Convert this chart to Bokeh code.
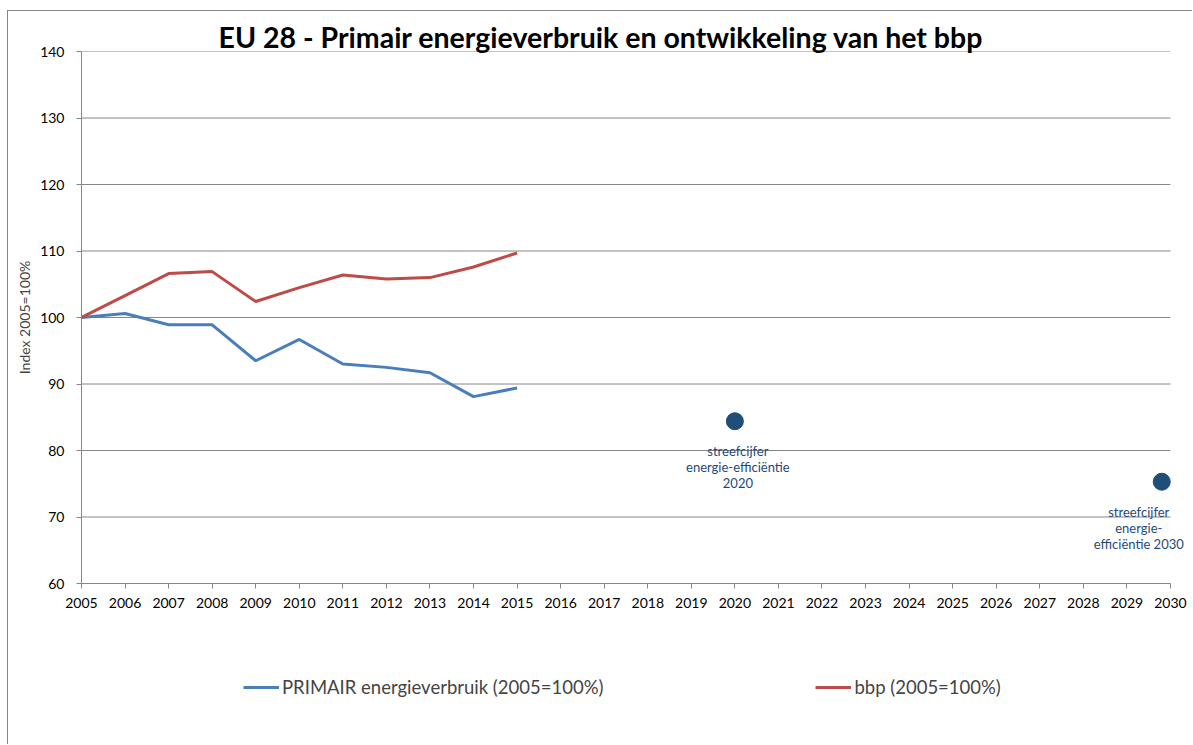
from bokeh.plotting import figure
from bokeh.models import Range1d, FixedTicker, Label, Legend, LegendItem
from bokeh.layouts import column
from bokeh.embed import file_html
from bokeh.resources import INLINE

# ---- data ----
years = list(range(2005, 2016))
primair = [100.0, 100.6, 98.9, 98.9, 93.5, 96.7, 93.0, 92.5, 91.7, 88.1, 89.4]
bbp = [100.0, 103.3, 106.6, 106.9, 102.4, 104.5, 106.4, 105.8, 106.0, 107.6, 109.7]
target_years = [2020, 2029.8]
target_values = [84.4, 75.3]
target_label_lines = [
    ["streefcijfer", "energie-efficiëntie", "2020"],
    ["streefcijfer", "energie-", "efficiëntie 2030"],
]
axis_years = list(range(2005, 2031))
y_ticks = [60, 70, 80, 90, 100, 110, 120, 130, 140]
title_text = "EU 28 - Primair energieverbruik en ontwikkeling van het bbp"
y_label = "Index 2005=100%"
legend_labels = ["PRIMAIR energieverbruik (2005=100%)", "bbp (2005=100%)"]

FONT = "Lato"
GRAY = "#868686"
BLUE = "#4A7EBB"
RED = "#BE4B48"
DOT = "#1F4E79"
TXT_BLUE = "#1F497D"
series = [primair, bbp]
series_colors = [BLUE, RED]

x_start, x_end = axis_years[0], axis_years[-1]

W = 1184
H_MAIN = 620
H_LEG = 113

p = figure(width=W, height=H_MAIN, output_backend="svg", toolbar_location=None,
           x_range=Range1d(x_start, x_end + 0.46), y_range=Range1d(60, 140),
           min_border_left=73, min_border_right=2, min_border_top=40,
           min_border_bottom=H_MAIN - 572)
p.outline_line_color = None
p.background_fill_color = "white"
p.border_fill_color = "white"

# title
p.title.text = title_text
p.title.align = "left"
p.title.offset = 137
p.title.vertical_align = "bottom"
p.title.standoff = -5
p.title.text_font = FONT
p.title.text_font_size = "28.5px"
p.title.text_font_style = "bold"
p.title.text_color = "#000000"

# axes
p.xaxis.ticker = FixedTicker(ticks=axis_years)
p.xaxis.bounds = (x_start, x_end)
p.yaxis.ticker = FixedTicker(ticks=y_ticks)
for ax in (p.xaxis[0], p.yaxis[0]):
    ax.axis_line_color = GRAY
    ax.major_tick_line_color = GRAY
    ax.major_tick_out = 5
    ax.major_tick_in = 0
    ax.minor_tick_line_color = None
    ax.major_label_text_font = FONT
    ax.major_label_text_color = "#000000"
p.xaxis.major_label_text_font_size = "14px"
p.xaxis.major_label_standoff = 9
p.yaxis.major_label_text_font_size = "14px"
p.yaxis.major_label_standoff = 12
p.yaxis.axis_label = y_label
p.yaxis.axis_label_text_font = FONT
p.yaxis.axis_label_text_font_size = "14px"
p.yaxis.axis_label_text_font_style = "normal"
p.yaxis.axis_label_standoff = 4

# horizontal gridlines (only across the axis extent)
p.xgrid.grid_line_color = None
p.ygrid.grid_line_color = None
p.segment(x0=[x_start] * len(y_ticks), x1=[x_end] * len(y_ticks),
          y0=y_ticks, y1=y_ticks, line_color=GRAY, line_width=1)

# series
for vals, c in zip(series, series_colors):
    p.line(years, vals, line_color=c, line_width=3)
p.scatter(target_years, target_values, size=17, color=DOT)

# target labels
label_dx = [3, -23]
for tx, tv, lines, dx in zip(target_years, target_values, target_label_lines, label_dx):
    for i, t in enumerate(lines):
        p.add_layout(Label(x=tx, y=tv, x_offset=dx, y_offset=-30 - 16 * i, text=t,
                           text_align="center", text_baseline="middle",
                           text_font=FONT, text_font_size="13px",
                           text_color=TXT_BLUE))

# legend strip (separate figure so that it is not clipped); its ranges keep
# the proxy series lines out of view, only the legend samples show
q = figure(width=W, height=H_LEG, output_backend="svg", toolbar_location=None,
           x_range=Range1d(0, 1), y_range=Range1d(0, 1),
           x_axis_type=None, y_axis_type=None,
           min_border_left=0, min_border_right=0, min_border_top=0, min_border_bottom=0)
q.outline_line_color = None
q.xgrid.grid_line_color = None
q.ygrid.grid_line_color = None
q.border_fill_color = "white"
q.background_fill_color = "white"
leg_renderers = [q.line(years, vals, line_color=c, line_width=3)
                 for vals, c in zip(series, series_colors)]
lg = Legend(items=[LegendItem(label=lab, renderers=[r])
                   for r, lab in zip(leg_renderers, legend_labels)],
            location=(162, 46), orientation="horizontal", padding=0, margin=0,
            spacing=212, glyph_width=36, glyph_height=20, label_height=20,
            label_standoff=3,
            label_text_font=FONT, label_text_font_size="18.5px",
            border_line_color=None, background_fill_alpha=0)
q.add_layout(lg, "center")

layout = column(p, q, spacing=0)
layout.styles = {"margin-left": "7px", "margin-top": "10px",
                 "border-left": "1px solid " + GRAY, "border-top": "1px solid " + GRAY}

open("out.html", "w").write(file_html(layout, INLINE))
